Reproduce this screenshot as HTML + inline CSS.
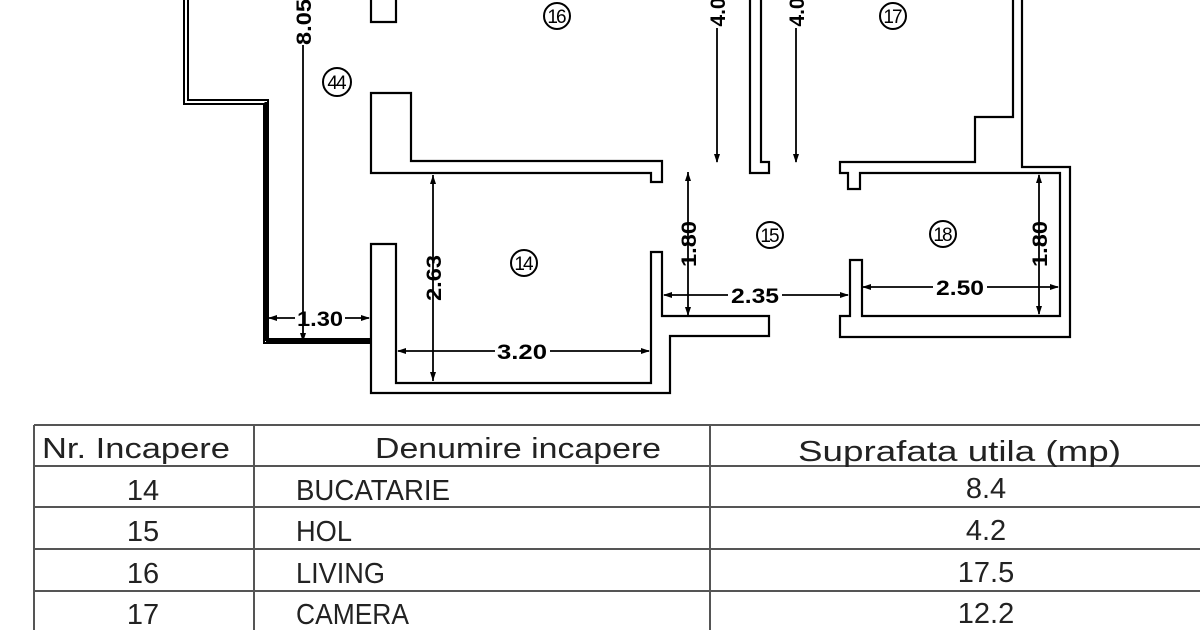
<!DOCTYPE html>
<html><head><meta charset="utf-8"><style>html,body{margin:0;padding:0;background:#fff}svg{display:block}</style></head>
<body>
<svg width="1200" height="630" viewBox="0 0 1200 630" xmlns="http://www.w3.org/2000/svg" font-family="Liberation Sans, sans-serif">
<rect width="1200" height="630" fill="#fff"/>
<g fill="none" stroke="#000" stroke-width="2.2">
<polyline points="184,0 184,104 264,104 264,343 371,343" stroke-width="2"/>
<polyline points="188,0 188,100 268,100 268,339 371,339" stroke-width="2"/>
<line x1="266" y1="102" x2="266" y2="341" stroke-width="3"/>
<line x1="266" y1="341" x2="371" y2="341" stroke-width="3"/>
<polyline points="371,0 371,22 396,22 396,0"/>
<polygon points="371,93 411,93 411,161 662,161 662,182 651,182 651,173 371,173"/>
<polygon points="371,244 371,393 670,393 670,336 769,336 769,316 662,316 662,252 651,252 651,383 396,383 396,244"/>
<polyline points="750,0 750,173 769,173 769,162 761,162 761,0"/>
<polyline points="1013,0 1013,117 975,117 975,162 840,162 840,173 848,173 848,189 860,189 860,173 1060,173 1060,316 862,316 862,260 850,260 850,316 840,316 840,337 1070,337 1070,167 1022,167 1022,0"/>
</g>
<g stroke="#000" stroke-width="1.8" fill="none">
<line x1="303" y1="45" x2="303" y2="341"/>
<line x1="433" y1="175" x2="433" y2="381"/>
<line x1="268" y1="318" x2="295" y2="318"/><line x1="345" y1="318" x2="369" y2="318"/>
<line x1="398" y1="351" x2="495" y2="351"/><line x1="550" y1="351" x2="649" y2="351"/>
<line x1="688" y1="172" x2="688" y2="316"/>
<line x1="664" y1="295" x2="728" y2="295"/><line x1="782" y1="295" x2="848" y2="295"/>
<line x1="717" y1="28" x2="717" y2="162"/>
<line x1="796" y1="28" x2="796" y2="162"/>
<line x1="862" y1="287" x2="933" y2="287"/><line x1="987" y1="287" x2="1058" y2="287"/>
<line x1="1039" y1="175" x2="1039" y2="314"/>
</g>
<g fill="#000">
<polygon points="303,342 300,333 306,333"/>
<polygon points="433,175 430,184 436,184"/><polygon points="433,381 430,372 436,372"/>
<polygon points="268,318 277,315 277,321"/><polygon points="370,318 361,315 361,321"/>
<polygon points="397,351 406,348 406,354"/><polygon points="650,351 641,348 641,354"/>
<polygon points="688,172 685,181 691,181"/><polygon points="688,316 685,307 691,307"/>
<polygon points="663,295 672,292 672,298"/><polygon points="849,295 840,292 840,298"/>
<polygon points="717,163 714,154 720,154"/><polygon points="796,163 793,154 799,154"/>
<polygon points="862,287 871,284 871,290"/><polygon points="1059,287 1050,284 1050,290"/>
<polygon points="1039,174 1036,183 1042,183"/><polygon points="1039,315 1036,306 1042,306"/>
</g>
<g font-weight="bold" font-size="21" fill="#000" text-anchor="middle">
<text transform="translate(311,22) rotate(-90)" textLength="46" lengthAdjust="spacingAndGlyphs">8.05</text>
<text transform="translate(441,278) rotate(-90)" textLength="46" lengthAdjust="spacingAndGlyphs">2.63</text>
<text x="320" y="326" textLength="46" lengthAdjust="spacingAndGlyphs">1.30</text>
<text x="522" y="359" textLength="50" lengthAdjust="spacingAndGlyphs">3.20</text>
<text transform="translate(696,244) rotate(-90)" textLength="46" lengthAdjust="spacingAndGlyphs">1.80</text>
<text x="755" y="303" textLength="48" lengthAdjust="spacingAndGlyphs">2.35</text>
<text transform="translate(725,12) rotate(-90)">4.0</text>
<text transform="translate(804,12) rotate(-90)">4.0</text>
<text x="960" y="295" textLength="48" lengthAdjust="spacingAndGlyphs">2.50</text>
<text transform="translate(1047,244) rotate(-90)" textLength="46" lengthAdjust="spacingAndGlyphs">1.80</text>
</g>
<g fill="none" stroke="#000" stroke-width="2">
<circle cx="557" cy="16" r="13"/><circle cx="893" cy="16" r="13"/>
<circle cx="337" cy="82" r="14"/><circle cx="524" cy="263" r="13"/>
<circle cx="770" cy="235" r="13"/><circle cx="943" cy="234" r="13"/>
</g>
<g font-size="19" fill="#000" text-anchor="middle" letter-spacing="-2">
<text x="556" y="23">16</text><text x="892" y="23">17</text>
<text x="336" y="89">44</text><text x="523" y="270">14</text>
<text x="769" y="242">15</text><text x="942" y="241">18</text>
</g>
<g stroke="#555" stroke-width="2" fill="none">
<line x1="34" y1="425" x2="1200" y2="425"/>
<line x1="34" y1="466" x2="1200" y2="466"/>
<line x1="34" y1="507" x2="1200" y2="507"/>
<line x1="34" y1="549" x2="1200" y2="549"/>
<line x1="34" y1="591" x2="1200" y2="591"/>
<line x1="34" y1="425" x2="34" y2="630"/>
<line x1="254" y1="425" x2="254" y2="630"/>
<line x1="710" y1="425" x2="710" y2="630"/>
</g>
<g font-size="29" fill="#222">
<text x="42" y="458" textLength="188" lengthAdjust="spacingAndGlyphs">Nr. Incapere</text>
<text x="375" y="458" textLength="286" lengthAdjust="spacingAndGlyphs">Denumire incapere</text>
<text x="798" y="461" textLength="323" lengthAdjust="spacingAndGlyphs">Suprafata utila (mp)</text>
<g text-anchor="middle"><text x="143" y="500">14</text><text x="143" y="541">15</text><text x="143" y="583">16</text><text x="143" y="624">17</text>
<text x="986" y="498">8.4</text><text x="986" y="540">4.2</text><text x="986" y="582">17.5</text><text x="986" y="623">12.2</text></g>
<text x="296" y="500" textLength="154" lengthAdjust="spacingAndGlyphs">BUCATARIE</text>
<text x="296" y="541" textLength="56" lengthAdjust="spacingAndGlyphs">HOL</text>
<text x="296" y="583" textLength="89" lengthAdjust="spacingAndGlyphs">LIVING</text>
<text x="296" y="624" textLength="113" lengthAdjust="spacingAndGlyphs">CAMERA</text>
</g>
</svg>
</body></html>
